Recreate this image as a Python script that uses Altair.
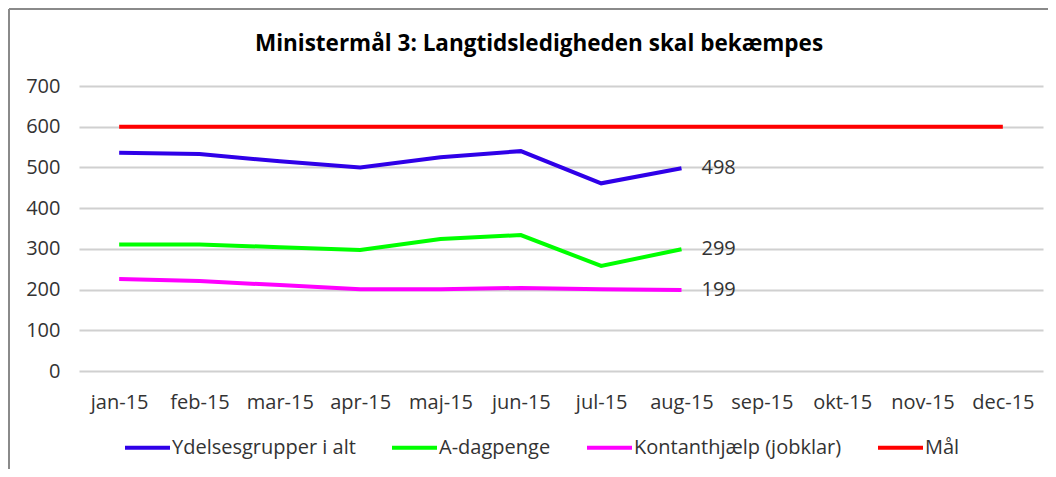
import altair as alt
import pandas as pd

months = ["jan-15", "feb-15", "mar-15", "apr-15", "maj-15", "jun-15",
          "jul-15", "aug-15", "sep-15", "okt-15", "nov-15", "dec-15"]
series_names = ["Ydelsesgrupper i alt", "A-dagpenge", "Kontanthjælp (jobklar)", "Mål"]
colors = ["#2f00e8", "#00ff00", "#ff00ff", "#ff0000"]
title_text = "Ministermål 3: Langtidsledigheden skal bekæmpes"

ydelser = [536, 533, 515, 500, 525, 540, 461, 498]
dagpenge = [311, 311, 304, 297, 324, 334, 258, 299]
kontant = [226, 221, 211, 201, 201, 204, 201, 199]
maal = [600] * 12

rows = []
for name, vals in zip(series_names, [ydelser, dagpenge, kontant, maal]):
    for i, (m, v) in enumerate(zip(months, vals)):
        rows.append({"month": m, "idx": i, "series": name, "value": v})
df = pd.DataFrame(rows)

last = df[(df["month"] == "aug-15") & (df["series"] != "Mål")]

FONT = "Open Sans"

x = alt.X("month:O", sort=months, scale=alt.Scale(domain=months),
          axis=alt.Axis(title=None, labelAngle=0, ticks=False, domain=False,
                        labelPadding=21, labelFontSize=20, labelColor="#333333",
                        labelFont=FONT, grid=False))
y = alt.Y("value:Q", scale=alt.Scale(domain=[0, 700], nice=False),
          axis=alt.Axis(title=None, values=list(range(0, 701, 100)), ticks=False,
                        domain=False, labelPadding=19, labelFontSize=20,
                        labelColor="#333333", labelFont=FONT,
                        gridColor="#d0d0d0", gridWidth=2))

color = alt.Color("series:N", scale=alt.Scale(domain=series_names, range=colors),
                  legend=alt.Legend(title=None, orient="none", legendX=44, legendY=337,
                                    direction="horizontal", columns=4,
                                    symbolType="stroke", symbolSize=2025,
                                    symbolStrokeWidth=4, labelFontSize=20,
                                    labelFont=FONT, labelColor="#333333",
                                    labelLimit=0, labelOffset=0, columnPadding=28,
                                    padding=0))

lines = alt.Chart(df).mark_line(strokeWidth=4).encode(x=x, y=y, color=color,
                                                       order=alt.Order("idx:Q"))

labels = alt.Chart(last).mark_text(align="left", baseline="middle", dx=20,
                                   fontSize=20, font=FONT, color="#333333").encode(
    x=alt.X("month:O", sort=months), y="value:Q", text="value:Q")

title = alt.Chart(pd.DataFrame({"t": [title_text]})).mark_text(
    align="center", baseline="middle", fontSize=22.5, font=FONT, fontWeight="bold",
    color="#000000").encode(x=alt.value(460), y=alt.value(-42), text="t:N")

frame_left = alt.Chart(pd.DataFrame({"a": [0]})).mark_rule(color="#8a8a8a", strokeWidth=2).encode(
    x=alt.value(-70), y=alt.value(-77), y2=alt.value(400))
frame_top = alt.Chart(pd.DataFrame({"a": [0]})).mark_rule(color="#8a8a8a", strokeWidth=2).encode(
    x=alt.value(-70), x2=alt.value(969), y=alt.value(-77))

chart = alt.layer(lines, labels, title, frame_left, frame_top).properties(
    width=964, height=285,
    autosize=alt.AutoSizeParams(type="none"),
    padding={"left": 71, "top": 78, "right": 5, "bottom": 98},
    background="white",
).configure_view(stroke=None)

chart.save("out.html", embed_options={"renderer": "svg", "actions": False})
